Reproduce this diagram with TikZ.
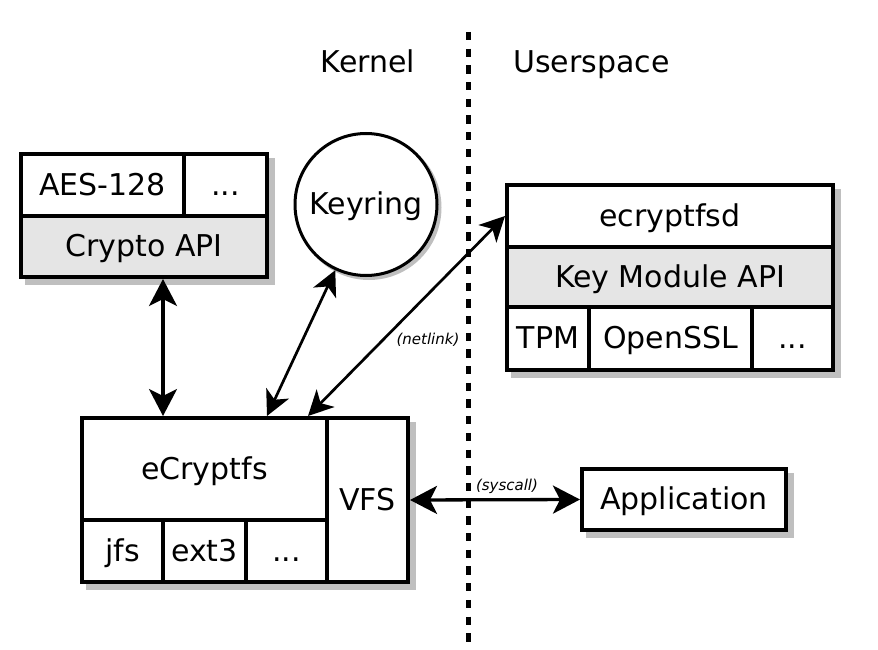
\documentclass[tikz,border=0pt]{standalone}
\usepackage{fontspec}
\setmainfont{DejaVu Sans}
\usetikzlibrary{arrows.meta,backgrounds}
\begin{document}
\begin{tikzpicture}[x=1pt,y=-1pt,
  cell/.style={draw, line width=4pt, inner sep=0pt, fill=white,
    text height=21pt, text depth=1pt,
    font=\fontsize{30}{36}\selectfont},
  apicell/.style={cell, fill=black!10},
  lbl/.style={font=\fontsize{30}{36}\selectfont, inner sep=0pt},
  small/.style={font=\fontsize{15}{18}\selectfont\itshape, inner sep=0pt},
  shadowfill/.style={fill=black!25},
  bigtip/.style={line width=3.3pt, {Stealth[length=27pt,width=28pt,inset=7pt]}-{Stealth[length=27pt,width=28pt,inset=7pt]}},
  thintip/.style={line width=2.7pt, {Stealth[length=25pt,width=25pt,inset=7pt]}-{Stealth[length=25pt,width=25pt,inset=7pt]}},
  divider/.style={line width=5pt, dash pattern=on 8.3pt off 8.4pt}
]
\useasboundingbox (0,0) rectangle (878,650);

% Kernel / Userspace labels
\node[lbl, anchor=base] (kernel) at (368,73) {Kernel};
\node[lbl, anchor=base] (userspace) at (591.5,73) {Userspace};

% Crypto API box
\node[cell, minimum width=163pt, minimum height=62pt] (aes) at (102.5,185) {AES-128};
\node[cell, minimum width=83pt, minimum height=62pt] (cdots) at (225.5,185) {...};
\node[apicell, minimum width=246pt, minimum height=61pt] (capi) at (144,246.5) {Crypto API};

% Keyring
\node[circle, draw, line width=3pt, fill=white, minimum size=142pt, inner sep=0pt,
  text height=21pt, text depth=1pt,
  font=\fontsize{30}{36}\selectfont] (keyring) at (366,204.5) {Keyring};

% ecryptfsd box
\node[cell, minimum width=326pt, minimum height=62pt] (ecd) at (670,216) {ecryptfsd};
\node[apicell, minimum width=326pt, minimum height=60pt] (kmapi) at (670,277) {Key Module API};
\node[cell, minimum width=82pt, minimum height=63pt] (tpm) at (548,338.5) {TPM};
\node[cell, minimum width=163pt, minimum height=63pt] (ossl) at (670.5,338.5) {OpenSSL};
\node[cell, minimum width=81pt, minimum height=63pt] (kdots) at (792.5,338.5) {...};

% eCryptfs box
\node[cell, minimum width=245pt, minimum height=102pt] (ecr) at (204.5,469) {eCryptfs};
\node[cell, minimum width=81pt, minimum height=62pt] (jfs) at (122.5,551) {jfs};
\node[cell, minimum width=83pt, minimum height=62pt] (ext3) at (204.5,551) {ext3};
\node[cell, minimum width=81pt, minimum height=62pt] (edots) at (286.5,551) {...};
\node[cell, minimum width=81pt, minimum height=164pt] (vfs) at (367.5,500) {VFS};

% Application
\node[cell, minimum width=204pt, minimum height=61pt] (app) at (684,499.5) {Application};

% shadows
\begin{pgfonlayer}{background}
  \fill[shadowfill] ([shift={(6,6)}]aes.north west) rectangle ([shift={(6,6)}]capi.south east);
  \fill[shadowfill] ([shift={(6,6)}]ecd.north west) rectangle ([shift={(6,6)}]kdots.south east);
  \fill[shadowfill] ([shift={(6,6)}]ecr.north west) rectangle ([shift={(6,6)}]vfs.south east);
  \fill[shadowfill] ([shift={(6,6)}]app.north west) rectangle ([shift={(6,6)}]app.south east);
  \fill[shadowfill] ([shift={(3,3)}]keyring.center) circle (72.5pt);
\end{pgfonlayer}

% kernel/userspace divider
\coordinate (dtop) at (468,32);
\coordinate (dbot) at (468,643);
\draw[divider] (dtop) -- (dbot);

% connector anchor x positions
\coordinate (xa) at (163,0);
\coordinate (xk) at (267,0);
\coordinate (xn) at (308,0);

\draw[bigtip] (capi.south -| xa) -- (ecr.north -| xa);
\draw[thintip] (keyring) -- (ecr.north -| xk);
\draw[thintip] (ecr.north -| xn) -- (ecd.west);
\draw[bigtip] (vfs.east) -- (app.west);

\node[small] (netlink) at (428,340) {(netlink)};
\node[small] (syscall) at (507,486) {(syscall)};
\end{tikzpicture}
\end{document}
